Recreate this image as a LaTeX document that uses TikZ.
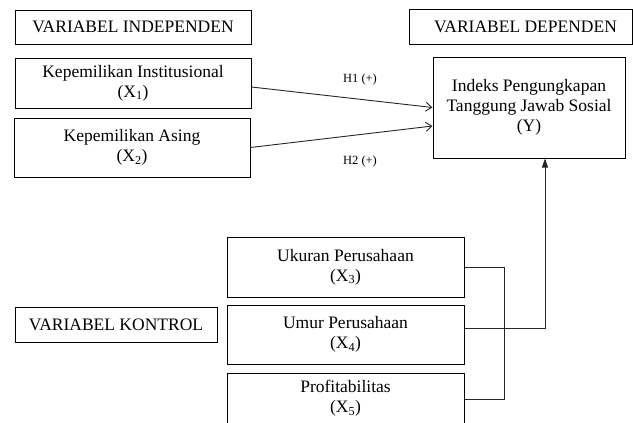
\documentclass[tikz,border=0pt]{standalone}
\usepackage{fontspec}
\setmainfont{Liberation Serif}
\usetikzlibrary{arrows.meta}
\begin{document}
\begin{tikzpicture}[x=1pt,y=-1pt,
  box/.style={draw=black,line width=1pt,align=center,inner sep=0pt,
    font=\fontsize{17.5}{20}\selectfont},
  lbl/.style={font=\fontsize{12.5}{14}\selectfont,inner sep=0pt},
  conn/.style={line width=0.9pt,draw=black!85}]
\useasboundingbox (0,0) rectangle (633,423);
\clip (0,0) rectangle (633,423);
\node[box,minimum width=236pt,minimum height=34pt] (indep) at (133,27) {VARIABEL INDEPENDEN};
\node[box,minimum width=236pt,minimum height=50pt] (X1) at (133,83) {Kepemilikan Institusional\\(X\textsubscript{1})};
\node[box,minimum width=236pt,minimum height=59pt] (X2) at (132,147.5) {Kepemilikan Asing\\(X\textsubscript{2})};
\node[box,minimum width=223pt,minimum height=35pt] (dep) at (520.5,26.5) {\hspace*{10pt}VARIABEL DEPENDEN};
\node[box,minimum width=192pt,minimum height=101pt] (Y) at (529,107.5) {Indeks Pengungkapan\\Tanggung Jawab Sosial\\(Y)};
\node[box,minimum width=237pt,minimum height=60pt] (X3) at (345.5,267) {Ukuran Perusahaan\\(X\textsubscript{3})};
\node[box,minimum width=237pt,minimum height=59pt] (X4) at (345.5,334.5) {Umur Perusahaan\\(X\textsubscript{4})};
\node[box,minimum width=237pt,minimum height=51pt] (X5) at (345.5,398.5) {Profitabilitas\\(X\textsubscript{5})};
\node[box,minimum width=202pt,minimum height=35pt] (kontrol) at (116,324.5) {VARIABEL KONTROL};
\node[lbl] (h1) at (360,79) {H1 (+)};
\node[lbl] (h2) at (360,161) {H2 (+)};
\draw[conn,-{Straight Barb[length=6pt,width=9pt]}] ([yshift=-4pt]X1.east) -- (Y.west);
\draw[conn,-{Straight Barb[length=6pt,width=9pt]}] (X2.east) -- ([yshift=-18.5pt]Y.west);
\draw[conn] (X3.east) -- (504,267) -- (504,399) -- ([yshift=-0.5pt]X5.east);
\draw[conn,-{Triangle[length=9pt,width=6pt]}] ([yshift=6.5pt]X4.east) -| ([xshift=16pt]Y.south);
\end{tikzpicture}
\end{document}
